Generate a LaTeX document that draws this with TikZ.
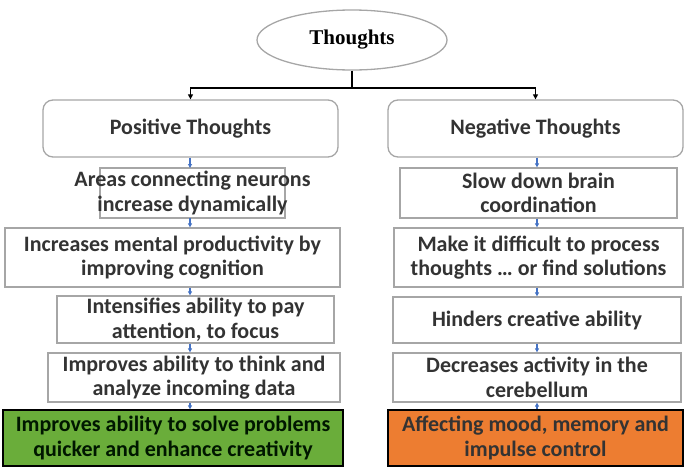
\documentclass[tikz,border=0pt]{standalone}
\usepackage{fontspec}
\setmainfont{Carlito}
\usetikzlibrary{shapes.geometric,arrows.meta}
\definecolor{bl}{HTML}{4472C4}
\definecolor{gr}{HTML}{6AAD3A}
\definecolor{orr}{HTML}{ED7D31}
\begin{document}
\begin{tikzpicture}[x=1pt,y=-1pt,
 box/.style={draw=gray!70,line width=1.3pt,align=center,font=\fontsize{22}{24.5}\selectfont\bfseries,inner sep=0pt,text=black!80},
 arr/.style={-{Triangle[length=4pt,width=4pt]},bl,line width=1.2pt}]
\useasboundingbox (0,0) rectangle (685,466);
\node[ellipse,draw=gray!70,line width=1.3pt,minimum width=190,minimum height=60,font=\fontsize{21}{24}\selectfont\bfseries\rmfamily] (t) at (352,40) {\fontspec{Liberation Serif}Thoughts};
\node[box,rounded corners=10pt,minimum width=295,minimum height=57] (p) at (190.5,128.5) {Positive Thoughts};
\node[box,rounded corners=10pt,minimum width=295,minimum height=57] (n) at (535.5,128.5) {Negative Thoughts};
\draw[draw=gray!70,line width=1.3pt] (100,168) rectangle (285,218);
\node[box,draw=none,minimum height=50] (l1) at (192.5,193) {Areas connecting neurons\\increase dynamically};
\node[box,minimum width=335,minimum height=59] (l2) at (172.5,257.5) {Increases mental productivity by\\improving cognition};
\node[box,minimum width=277,minimum height=47] (l3) at (195.5,319.5) {Intensifies ability to pay\\attention, to focus};
\node[box,minimum width=292,minimum height=49] (l4) at (194,377.5) {Improves ability to think and\\analyze incoming data};
\node[box,draw=black,fill=gr,text=black!70!green!30!black,minimum width=340,minimum height=56] (l5) at (173,438) {Improves ability to solve problems\\quicker and enhance creativity};
\node[box,minimum width=277,minimum height=50] (r1) at (538.5,193) {Slow down brain\\coordination};
\node[box,minimum width=289,minimum height=59] (r2) at (538.5,257.5) {Make it difficult to process\\thoughts … or find solutions};
\node[box,minimum width=288,minimum height=46] (r3) at (537,320) {Hinders creative ability};
\node[box,minimum width=288,minimum height=49] (r4) at (537,377.5) {Decreases activity in the\\cerebellum};
\node[box,draw=black,fill=orr,minimum width=295,minimum height=56] (r5) at (535.5,438) {Affecting mood, memory and\\impulse control};
\coordinate (j) at (352,88);
\draw[line width=1.5pt] (t.south) -- (j);
\draw[line width=1.5pt,-{Triangle[length=5pt,width=5pt]}] (j) -| (p.north);
\draw[line width=1.5pt,-{Triangle[length=5pt,width=5pt]}] (j) -| (n.north);
\draw[arr] (p.south -| 190,0) -- (190,168);
\draw[arr] (190,218) -- (l2.north -| 190,0);
\draw[arr] (l2.south -| 190,0) -- (l3.north -| 190,0);
\draw[arr] (l3.south -| 190,0) -- (l4.north -| 190,0);
\draw[arr] (l4.south -| 190,0) -- (l5.north -| 190,0);
\draw[arr] (n.south -| 537,0) -- (r1.north -| 537,0);
\draw[arr] (r1.south -| 537,0) -- (r2.north -| 537,0);
\draw[arr] (r2.south -| 537,0) -- (r3.north -| 537,0);
\draw[arr] (r3.south -| 537,0) -- (r4.north -| 537,0);
\draw[arr] (r5.north -| 537,0) -- (r4.south -| 537,0);
\end{tikzpicture}
\end{document}
